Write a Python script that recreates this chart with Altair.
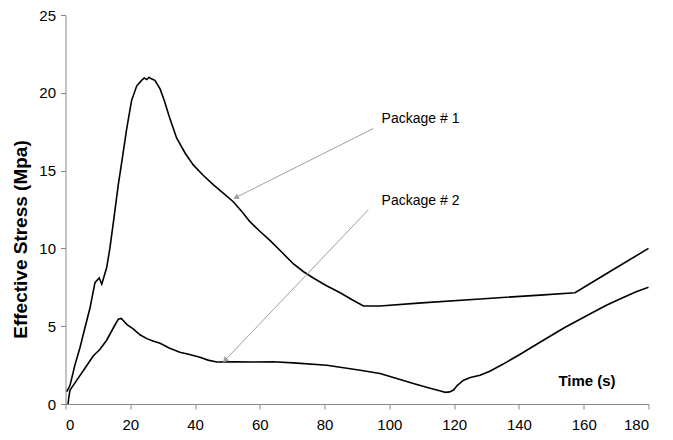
import altair as alt
import pandas as pd

# Package # 1 (upper curve)
t1 = [0.4, 1.4, 2.9, 4.5, 6.0, 7.6, 9.1, 10.4, 11.2, 12.7, 13.7, 14.8, 16.3, 17.4, 18.9,
      20.4, 22.0, 23.5, 24.3, 25.1, 25.8, 26.5, 27.6, 29.2, 30.5, 32.0, 34.3, 37.0, 39.5,
      42.5, 45.6, 48.7, 51.8, 54.5, 57.0, 60.0, 63.2, 66.8, 70.4, 73.5, 76.5, 80.6, 84.8,
      88.5, 92.0, 97.1, 110.0, 128.0, 146.5, 157.3, 168.0, 180.0]
v1 = [0.8, 1.2, 2.5, 3.65, 4.9, 6.2, 7.8, 8.1, 7.7, 8.75, 10.0, 11.7, 14.1, 15.6, 17.7,
      19.5, 20.45, 20.8, 20.95, 20.85, 21.0, 20.9, 20.8, 20.25, 19.5, 18.5, 17.1, 16.1, 15.35,
      14.7, 14.1, 13.55, 13.0, 12.35, 11.7, 11.1, 10.5, 9.75, 9.0, 8.5, 8.1, 7.6, 7.15,
      6.7, 6.3, 6.3, 6.5, 6.75, 7.0, 7.15, 8.5, 10.0]

# Package # 2 (lower curve)
t2 = [0.8, 1.0, 1.4, 3.4, 6.0, 8.6, 10.6, 12.7, 14.8, 16.3, 17.2, 17.9, 19.0, 20.9, 23.0,
      25.1, 27.0, 29.2, 32.0, 35.3, 38.0, 41.5, 44.0, 46.7, 52.0, 58.0, 64.0, 70.4, 80.7,
      91.0, 97.1, 103.3, 107.4, 112.0, 115.5, 117.3, 118.6, 119.8, 121.0, 122.9, 125.0,
      128.0, 131.0, 135.0, 140.0, 146.5, 154.0, 161.9, 167.0, 172.2, 176.0, 180.0]
v2 = [0.0, 0.4, 0.9, 1.5, 2.3, 3.1, 3.5, 4.1, 4.9, 5.45, 5.5, 5.35, 5.1, 4.83, 4.45,
      4.2, 4.05, 3.9, 3.6, 3.33, 3.2, 3.0, 2.82, 2.7, 2.72, 2.7, 2.72, 2.64, 2.49,
      2.17, 1.96, 1.58, 1.32, 1.05, 0.85, 0.75, 0.78, 0.9, 1.2, 1.53, 1.7,
      1.85, 2.1, 2.55, 3.15, 3.97, 4.9, 5.78, 6.35, 6.85, 7.2, 7.5]

labels = ["Package # 1", "Package # 2"]
label_t = [97.6, 97.6]
label_v = [18.34, 13.04]
arrow_t0 = [95.0, 93.5]
arrow_v0 = [17.7, 12.48]
arrow_t1 = [52.6, 49.2]
arrow_v1 = [13.27, 2.8]
arrow_angle = [243.3, 223.4]

x_ticks = list(range(0, 181, 20))
y_ticks = list(range(0, 26, 5))

df = pd.concat([
    pd.DataFrame({"t": t1, "v": v1, "s": labels[0]}),
    pd.DataFrame({"t": t2, "v": v2, "s": labels[1]}),
])
ann = pd.DataFrame({"label": labels, "lt": label_t, "lv": label_v,
                    "t0": arrow_t0, "v0": arrow_v0, "t1": arrow_t1, "v1": arrow_v1,
                    "ang": arrow_angle})

xs = alt.Scale(domain=[0, 180], nice=False)
ys = alt.Scale(domain=[0, 25], nice=False)

x_axis = alt.Axis(values=x_ticks, title="Time (s)", titleX=521, titleY=-24,
                  titleAlign="center", titleBaseline="middle", titleAngle=0,
                  titleFontSize=15, titleFontWeight="bold", labelPadding=8)
y_axis = alt.Axis(values=y_ticks, title="Effective Stress (Mpa)", titleX=-45.5, titleY=224,
                  titleAlign="center", titleBaseline="middle", titleAngle=270,
                  titleFontSize=19, titleFontWeight="bold", labelPadding=5)

lines = alt.Chart(df).mark_line(color="black", strokeWidth=1.6).encode(
    x=alt.X("t:Q", scale=xs, axis=x_axis),
    y=alt.Y("v:Q", scale=ys, axis=y_axis),
    detail="s:N",
)

rules = alt.Chart(ann).mark_rule(color="#a0a0a0", strokeWidth=1).encode(
    x=alt.X("t0:Q", scale=xs), y=alt.Y("v0:Q", scale=ys),
    x2="t1:Q", y2="v1:Q",
)

heads = alt.Chart(ann).mark_point(shape="triangle-up", filled=True, color="#a0a0a0",
                                  size=40, opacity=1).encode(
    x=alt.X("t1:Q", scale=xs), y=alt.Y("v1:Q", scale=ys),
    angle=alt.Angle("ang:Q", scale=None),
)

texts = alt.Chart(ann).mark_text(align="left", baseline="middle", fontSize=14,
                                 font="Liberation Sans", color="black").encode(
    x=alt.X("lt:Q", scale=xs), y=alt.Y("lv:Q", scale=ys), text="label:N",
)

chart = alt.layer(lines, rules, heads, texts).properties(
    width=583, height=389,
    autosize=alt.AutoSizeParams(type="none"),
    padding={"left": 57.5, "top": 7, "right": 16, "bottom": 36},
    background="white",
).configure_view(stroke=None).configure_axis(
    grid=False, domainColor="#888888", tickColor="#888888", tickSize=5,
    labelColor="black", labelFont="Liberation Sans", labelFontSize=15,
    titleFont="Liberation Sans", titleColor="black",
)

chart.save("out.html", embed_options={"renderer": "svg", "actions": False})
